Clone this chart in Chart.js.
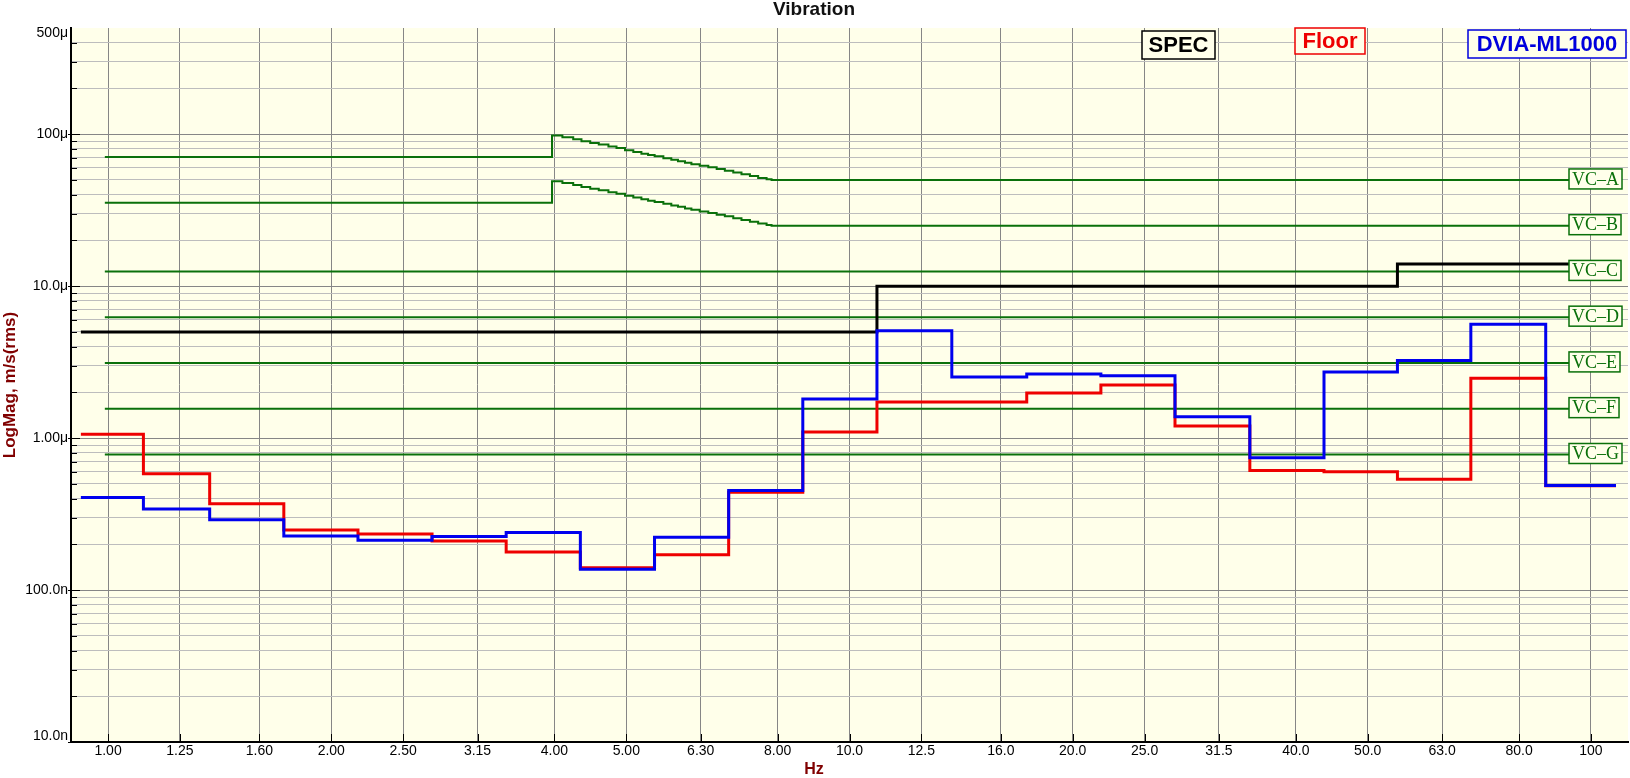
<!DOCTYPE html>
<html>
<head>
<meta charset="utf-8">
<script src="https://cdn.jsdelivr.net/npm/chart.js@4.4.1/dist/chart.umd.min.js"></script>
<style>
html,body{margin:0;padding:0;background:#ffffff;}
#wrap{width:1630px;height:778px;position:relative;}
</style>
</head>
<body>
<div id="wrap"><canvas id="c" width="1630" height="778"></canvas></div>
<script>
// ---------- DATA ----------
const bandLabels  = ['1.00','1.25','1.60','2.00','2.50','3.15','4.00','5.00','6.30','8.00','10.0','12.5','16.0','20.0','25.0','31.5','40.0','50.0','63.0','80.0','100'];
const bandCenters = [1,1.25,1.6,2,2.5,3.15,4,5,6.3,8,10,12.5,16,20,25,31.5,40,50,63,80,100];
// step edges of the 1/3-octave bands (start, 20 inner edges, end), Hz
const stepEdgesHz = [0.919,1.116,1.371,1.726,2.173,2.735,3.443,4.335,5.458,6.871,8.650,10.89,13.74,17.34,21.83,27.48,34.67,43.65,54.83,68.87,86.90,108.1];
// band values, micro m/s rms
const floorUm = [1.06,0.582,0.370,0.248,0.234,0.210,0.178,0.140,0.171,0.441,1.095,1.726,1.726,1.98,2.24,1.20,0.612,0.600,0.537,2.48,0.485];
const dviaUm  = [0.407,0.341,0.290,0.227,0.213,0.225,0.239,0.137,0.223,0.452,1.806,5.08,2.52,2.64,2.57,1.38,0.742,2.72,3.24,5.62,0.488];
const specUm  = [5,5,5,5,5,5,5,5,5,5,5,10,10,10,10,10,10,10,14,14,14];
// VC criteria
const vcNames   = ['VC\u2013A','VC\u2013B','VC\u2013C','VC\u2013D','VC\u2013E','VC\u2013F','VC\u2013G'];
const vcStartHz = 0.99;
const vcEndHz   = 108.1;
const vcLowUm   = [70.7, 35.4];            // VC-A, VC-B below 4 Hz
const vcFlatUm  = [12.5, 6.25, 3.125, 1.5625, 0.78]; // VC-C ... VC-G
const vcStairHz = [3.97,4.10,4.24,4.35,4.47,4.59,4.73,4.85,4.98,5.11,5.24,5.35,5.46,5.61,5.75,5.87,6.00,6.12,6.28,6.45,6.62,6.79,6.97,7.15,7.34,7.53,7.73,7.85];
const vcAStairUm = [98,95.5,92.5,90,87.5,85.5,83,81,78.5,76.5,74.5,73,71.5,69.5,68,66.5,65,63.5,62,60.5,59,57.5,56,54.5,53,51.5,50.5,50];
const vcBStairUm = [49,47.8,46.3,45,43.8,42.8,41.5,40.5,39.3,38.3,37.3,36.5,35.8,34.8,34,33.3,32.5,31.8,31,30.3,29.5,28.8,28,27.3,26.5,25.8,25.3,25];
// y tick labels
const yTickVals   = [1e-8,1e-7,1e-6,1e-5,1e-4,5e-4];
const yTickLabels = ['10.0n','100.0n','1.00\u03bc','10.0\u03bc','100\u03bc','500\u03bc'];

// ---------- STYLE ----------
const BG = '#ffffea';
const RED = '#ee0000', BLUE = '#0000ee', BLACK = '#000000', GREEN = '#0a700a';
const UM = 1e-6;

function bandSteps(vals){
  const pts = vals.map((v,i)=>({x: stepEdgesHz[i], y: v*UM}));
  pts.push({x: stepEdgesHz[vals.length], y: vals[vals.length-1]*UM});
  return pts;
}
function stairSeries(low, stair){
  const pts = [{x: vcStartHz, y: low*UM}];
  stair.forEach((v,i)=>pts.push({x: vcStairHz[i], y: v*UM}));
  pts.push({x: vcEndHz, y: stair[stair.length-1]*UM});
  return pts;
}
function flatSeries(v){ return [{x: vcStartHz, y: v*UM},{x: vcEndHz, y: v*UM}]; }

const vcValuesForLabels = [vcAStairUm[vcAStairUm.length-1], vcBStairUm[vcBStairUm.length-1]].concat(vcFlatUm);

function line(label, data, color, width){
  return {label, data, borderColor: color, borderWidth: width, stepped: true,
          pointRadius: 0, pointHoverRadius: 0, fill: false, tension: 0};
}
const datasets = [
  line('DVIA-ML1000', bandSteps(dviaUm), BLUE, 3),
  line('Floor', bandSteps(floorUm), RED, 3),
  line('SPEC', bandSteps(specUm), BLACK, 3),
  line(vcNames[0], stairSeries(vcLowUm[0], vcAStairUm), GREEN, 2),
  line(vcNames[1], stairSeries(vcLowUm[1], vcBStairUm), GREEN, 2),
].concat(vcFlatUm.map((v,i)=>line(vcNames[i+2], flatSeries(v), GREEN, 2)));

function isDecade(v){ const l = Math.log10(v); return Math.abs(l - Math.round(l)) < 1e-6; }
function yLabelFor(v){
  for (let k=0;k<yTickVals.length;k++){ if (Math.abs(v/yTickVals[k]-1) < 1e-6) return k; }
  return -1;
}

// ---------- PLUGINS ----------
const decor = {
  id: 'decor',
  beforeDraw(chart){
    const {ctx, chartArea: a} = chart;
    ctx.save();
    ctx.fillStyle = BG;
    ctx.fillRect(a.left, a.top, a.right - a.left, a.bottom - a.top);
    ctx.restore();
  },
  afterDraw(chart){
    const {ctx, chartArea: a, scales} = chart;
    const x = scales.x, y = scales.y;
    ctx.save();
    // inner ticks
    ctx.strokeStyle = '#000'; ctx.lineWidth = 1;
    y.ticks.forEach(t=>{
      if (t.value > 4.5e-4) return;
      const py = Math.round(y.getPixelForValue(t.value)) + 0.5;
      const major = isDecade(t.value);
      ctx.beginPath();
      ctx.moveTo(a.left - (major ? 3 : 0), py);
      ctx.lineTo(a.left + (major ? 9 : 6), py);
      ctx.stroke();
    });
    x.ticks.forEach(t=>{
      const px = Math.round(x.getPixelForValue(t.value)) + 0.5;
      ctx.beginPath(); ctx.moveTo(px, a.bottom); ctx.lineTo(px, a.bottom - 8); ctx.stroke();
    });
    // VC labels
    ctx.font = '18px "Liberation Serif", "Times New Roman", serif';
    ctx.textBaseline = 'middle'; ctx.textAlign = 'left';
    vcNames.forEach((name,i)=>{
      const py = y.getPixelForValue(vcValuesForLabels[i]*UM) - 1;
      const w = ctx.measureText(name).width;
      const bx = a.right - 59, bw = w + 6, bh = 20, by = py - bh/2;
      ctx.fillStyle = BG; ctx.fillRect(bx, by, bw, bh);
      ctx.strokeStyle = GREEN; ctx.lineWidth = 1.5; ctx.strokeRect(bx, by, bw, bh);
      ctx.fillStyle = GREEN; ctx.fillText(name, bx + 3, py + 1);
    });
    // legend boxes
    const legend = [
      {text: 'SPEC', color: BLACK, box: [1142, 31, 73, 28]},
      {text: 'Floor', color: RED, box: [1295, 28, 70, 26]},
      {text: 'DVIA-ML1000', color: '#0000dd', box: [1468, 30, 158, 28]},
    ];
    ctx.font = 'bold 22px "Liberation Sans", Arial, sans-serif';
    ctx.textAlign = 'center';
    legend.forEach(l=>{
      const [bx,by,bw,bh] = l.box;
      ctx.fillStyle = BG; ctx.fillRect(bx, by, bw, bh);
      ctx.strokeStyle = l.color; ctx.lineWidth = 1.5; ctx.strokeRect(bx, by, bw, bh);
      ctx.fillStyle = l.color; ctx.fillText(l.text, bx + bw/2, by + bh/2 + 1);
    });
    ctx.restore();
  }
};

Chart.defaults.font.family = '"Liberation Sans", Arial, sans-serif';
Chart.defaults.color = '#000';

new Chart(document.getElementById('c'), {
  type: 'line',
  data: { datasets },
  plugins: [decor],
  options: {
    responsive: false,
    animation: false,
    events: [],
    layout: { padding: { left: 0, right: 2, top: 0, bottom: 0 } },
    plugins: {
      legend: { display: false },
      tooltip: { enabled: false },
      title: { display: true, text: 'Vibration', color: '#111',
               font: { size: 19, weight: 'bold', lineHeight: 1 }, padding: { top: 0, bottom: 9 } },
      subtitle: { display: true, position: 'bottom', text: 'Hz', color: '#800000',
               font: { size: 16, weight: 'bold', lineHeight: 1 }, padding: { top: 0, bottom: 0 } }
    },
    scales: {
      x: {
        type: 'logarithmic',
        min: Math.pow(10, -0.05), max: Math.pow(10, 2.05),
        bounds: 'data',
        afterBuildTicks: (s) => { s.ticks = bandCenters.map(v => ({ value: v })); },
        afterFit: (s) => { s.height = 20; },
        ticks: { autoSkip: false, maxRotation: 0, minRotation: 0, padding: 1,
                 major: { enabled: false },
                 font: { size: 14 }, color: '#000',
                 callback: (v, i) => bandLabels[i] },
        grid: { color: '#868686', lineWidth: 1, drawTicks: false },
        border: { display: true, color: '#000', width: 2 }
      },
      y: {
        type: 'logarithmic',
        min: 1e-8, max: 5e-4,
        bounds: 'data',
        afterBuildTicks: (s) => {
          const t = [];
          for (let e = -8; e <= -4; e++) {
            for (let m = 1; m <= 9; m++) {
              const v = m * Math.pow(10, e);
              if (v <= 5e-4 * 1.0001) t.push({ value: v });
            }
          }
          s.ticks = t;
        },
        afterFit: (s) => { s.width = 71; },
        ticks: { autoSkip: false, padding: 3, major: { enabled: false },
                 font: { size: 14, lineHeight: '11px' }, color: '#000',
                 callback: (v) => {
                   const k = yLabelFor(v);
                   if (k < 0) return '';
                   if (k === 0) return [yTickLabels[k], ''];
                   if (k === yTickVals.length - 1) return ['', yTickLabels[k]];
                   return yTickLabels[k];
                 } },
        grid: { drawTicks: false, lineWidth: 1,
                color: (c) => {
                  const v = c.tick ? c.tick.value : null;
                  if (!v || v > 4.5e-4) return 'rgba(0,0,0,0)';
                  return isDecade(v) ? '#868686' : '#bdbdbd';
                } },
        border: { display: true, color: '#000', width: 2 },
        title: { display: true, text: 'LogMag, m/s(rms)', color: '#800000',
                 font: { size: 17, weight: 'bold' }, padding: { top: 0, bottom: 0 } }
      }
    }
  }
});
</script>
</body>
</html>
